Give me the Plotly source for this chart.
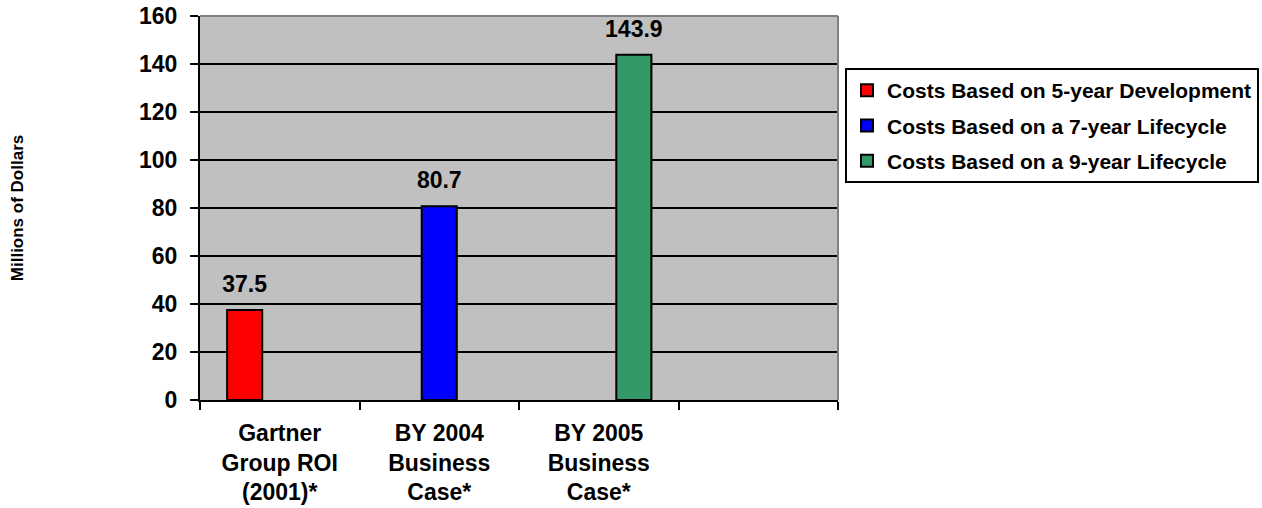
import plotly.graph_objects as go

categories = ["Gartner<br>Group ROI<br>(2001)*", "BY 2004<br>Business<br>Case*", "BY 2005<br>Business<br>Case*", " "]
series_names = [
    "Costs Based on 5-year Development",
    "Costs Based on a 7-year Lifecycle",
    "Costs Based on a 9-year Lifecycle",
]
series_values = [
    [37.5, None, None, None],
    [None, 80.7, None, None],
    [None, None, 143.9, None],
]
colors = ["#FF0000", "#0000FF", "#339966"]
y_ticks = [0, 20, 40, 60, 80, 100, 120, 140, 160]

FONT = "Liberation Sans, Arial, sans-serif"
W, H = 1262, 508

fig = go.Figure()
for i, (name, vals) in enumerate(zip(series_names, series_values)):
    fig.add_trace(go.Bar(
        x=categories, y=vals, name=f"<b>{name}</b>",
        marker=dict(color=colors[i], line=dict(color="black", width=2)),
        texttemplate="<span style='font-size:23px'><b>%{y}</b></span><br> ",
        textposition="outside",
        constraintext="none",
        cliponaxis=False,
        textfont=dict(family=FONT, size=10, color="black"),
        legendgroup=f"g{i}",
    ))

fig.update_layout(
    width=W, height=H,
    margin=dict(l=200, r=424, t=16, b=108),
    paper_bgcolor="white",
    plot_bgcolor="#C0C0C0",
    barmode="group",
    bargap=0.34,
    bargroupgap=0,
    font=dict(family=FONT, size=22, color="black"),
    legend=dict(
        xref="container", yref="container",
        x=845 / W, y=1 - 68 / H, xanchor="left", yanchor="top",
        bgcolor="white", bordercolor="black", borderwidth=2,
        font=dict(family=FONT, size=21, color="black"),
        tracegroupgap=5,
        traceorder="grouped",
    ),
    showlegend=True,
    xaxis=dict(
        categoryorder="array", categoryarray=categories,
        tickson="boundaries", ticks="outside", ticklen=8, tickwidth=2, tickcolor="black",
        showline=True, linecolor="black", linewidth=2,
        showgrid=False,
        tickfont=dict(family=FONT, size=23, color="black"),
        tickprefix="<b>", ticksuffix="</b>",
        ticklabelstandoff=11,
        automargin=False,
    ),
    yaxis=dict(
        range=[0, 160], tickvals=y_ticks, ticktext=[f"<b>{v}</b>" for v in y_ticks],
        ticks="outside", ticklen=8, tickwidth=2, tickcolor="black",
        showline=True, linecolor="black", linewidth=2,
        showgrid=True, gridcolor="black", gridwidth=2,
        zeroline=False,
        tickfont=dict(family=FONT, size=23, color="black"),
        ticklabelstandoff=8,
        title=dict(text="<b>Millions of Dollars</b>", font=dict(family=FONT, size=17, color="black"), standoff=111),
        automargin=False,
    ),
    shapes=[
        dict(type="line", xref="paper", yref="paper", x0=0, x1=1, y0=1, y1=1, line=dict(color="#808080", width=2)),
        dict(type="line", xref="paper", yref="paper", x0=1, x1=1, y0=0, y1=1, line=dict(color="#808080", width=2)),
    ],
)

fig.write_html("out.html")
